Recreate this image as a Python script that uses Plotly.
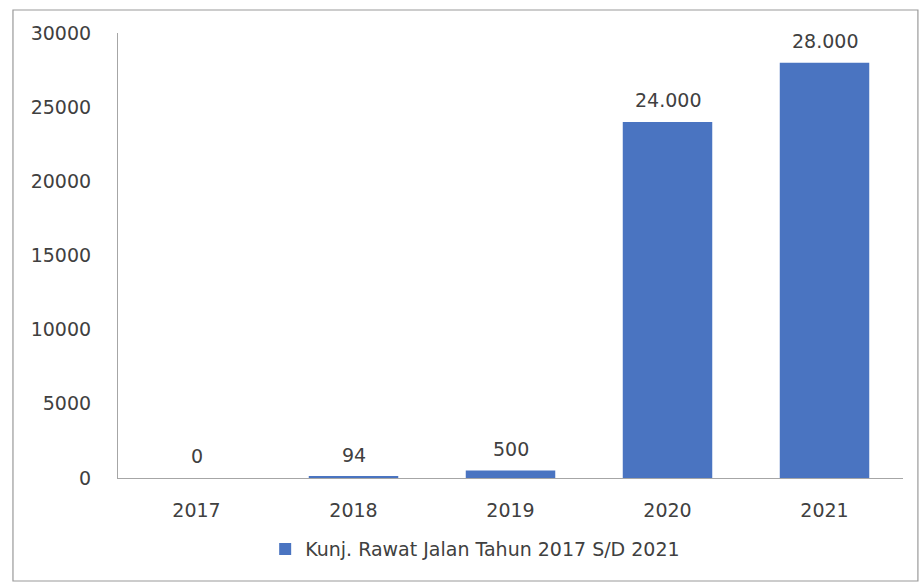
import plotly.graph_objects as go

# Outpatient visits per year
years = ["2017", "2018", "2019", "2020", "2021"]
visits = [0, 94, 500, 24000, 28000]
y_ticks = [0, 5000, 10000, 15000, 20000, 25000, 30000]
series_name = "Kunj. Rawat Jalan Tahun 2017 S/D 2021"

BAR_COLOR = "#4a74c1"
TEXT_COLOR = "#404040"
AXIS_COLOR = "#a6a6a6"
FONT = "DejaVu Sans"


def fmt_id(v):
    # Indonesian thousands separator
    return f"{v:,}".replace(",", ".")


fig = go.Figure()
fig.add_trace(go.Bar(
    x=years,
    y=visits,
    name=series_name,
    marker=dict(color=BAR_COLOR, line=dict(width=0)),
    width=0.57,
    showlegend=True,
))

# Value labels above each bar (positioned by category index on the x axis)
for i, v in enumerate(visits):
    fig.add_annotation(
        x=i, y=v, text=fmt_id(v), showarrow=False,
        yanchor="bottom", yshift=9,
        font=dict(family=FONT, size=19, color=TEXT_COLOR),
    )

# Thin frame around the whole chart
fig.add_shape(
    type="rect", xref="paper", yref="paper",
    x0=-0.1338, x1=1.019, y0=-0.2315, y1=1.0517,
    line=dict(color="#9a9a9a", width=1.2),
    fillcolor="rgba(0,0,0,0)", layer="below",
)

fig.update_layout(
    width=920, height=584,
    margin=dict(l=118, r=17, t=33, b=106),
    paper_bgcolor="white",
    plot_bgcolor="white",
    font=dict(family=FONT, size=19, color=TEXT_COLOR),
    legend=dict(
        orientation="h",
        x=0.455, xanchor="center",
        y=-0.16, yanchor="middle",
        font=dict(family=FONT, size=19, color=TEXT_COLOR),
        itemwidth=30,
    ),
    xaxis=dict(
        type="category",
        categoryorder="array", categoryarray=years,
        range=[-0.5, len(years) - 0.5],
        showgrid=False,
        showline=True, linecolor=AXIS_COLOR, linewidth=1.2,
        ticks="", ticklabelstandoff=15,
        tickfont=dict(family=FONT, size=19, color=TEXT_COLOR),
    ),
    yaxis=dict(
        range=[0, 30000],
        tickvals=y_ticks,
        ticktext=[str(t) for t in y_ticks],
        showgrid=False, zeroline=False,
        showline=True, linecolor=AXIS_COLOR, linewidth=1.2,
        ticks="", ticklabelstandoff=22,
        tickfont=dict(family=FONT, size=19, color=TEXT_COLOR),
    ),
)

fig.write_html("out.html")
